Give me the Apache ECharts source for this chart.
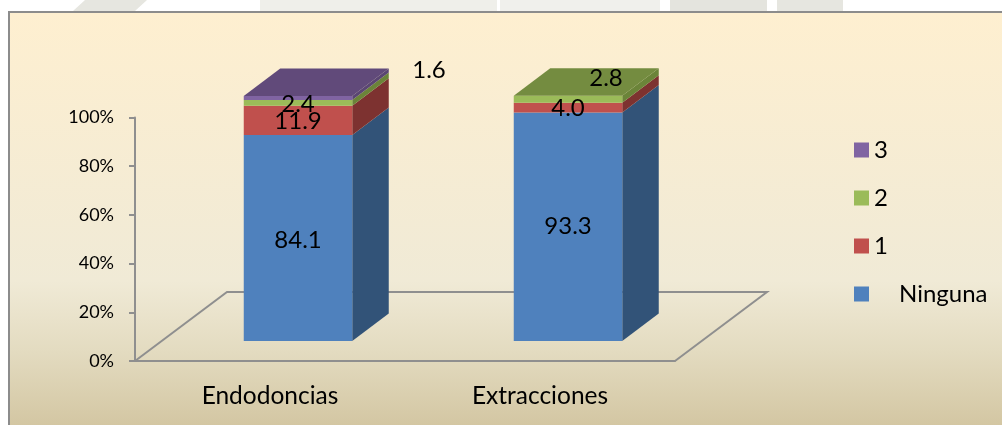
<!DOCTYPE html>
<html><head><meta charset="utf-8">
<style>html,body{margin:0;padding:0;background:#fff}#c{width:1002px;height:425px}</style>
<script src="https://cdn.jsdelivr.net/npm/echarts@6/dist/echarts.min.js"></script>
</head><body><div id="c"></div>
<script>
const categories = ['Endodoncias', 'Extracciones'];
const yTicks = [0, 20, 40, 60, 80, 100];
const legendOrder = ['3', '2', '1', 'Ninguna'];
const ninguna = [84.1, 93.3];
const uno = [11.9, 4.0];
const dos = [2.4, 2.8];
const tres = [1.6, 0];

const FONT = 'Lato';
const DX = 36.5, DY = -27.5, LIFT = -20, BAR_W = 108.5, BAR_SHIFT = 28, BAR_SCALE = 1.006;
const FLOOR_DX = 92, FLOOR_DY = -69;

const stack = [
  {name: 'Ninguna', vals: ninguna, front: '#4F81BD', side: '#325378', top: '#3E6695'},
  {name: '1', vals: uno, front: '#C0504D', side: '#7D3230', top: '#963F3C'},
  {name: '2', vals: dos, front: '#9BBB59', side: '#6B8439', top: '#748C40'},
  {name: '3', vals: tres, front: '#8064A2', side: '#5A4673', top: '#614A7A'}
];
// label nudges from the default centred spot, per series then category
const nudges = {
  'Ninguna': [[0, 2], [0, 0]],
  '1': [[0, 1], [0, 1]],
  '2': [[0, 1], [38, -21]],
  '3': [[131, -27.5], [0, 0]]
};

function lower(si, ci) { let s = 0; for (let i = 0; i < si; i++) s += stack[i].vals[ci]; return s; }
const isTop = (si, ci) => { for (let i = si + 1; i < stack.length; i++) if (stack[i].vals[ci] > 0) return false; return true; };

function box(api, ci, from, to) {
  const base = api.coord([ci, 0])[1] + LIFT;
  const a = api.coord([ci, from]), b = api.coord([ci, to]);
  const x0 = a[0] + BAR_SHIFT - BAR_W / 2;
  return {x0, x1: x0 + BAR_W, y0: base + (a[1] + LIFT - base) * BAR_SCALE, y1: base + (b[1] + LIFT - base) * BAR_SCALE};
}

const series = stack.map((s, si) => ({
  name: s.name, type: 'custom', z: 5 + si, clip: false,
  itemStyle: {color: s.front},
  data: s.vals.map((v, ci) => [ci, lower(si, ci), lower(si, ci) + v, v]),
  encode: {x: 0, y: [1, 2]},
  renderItem(params, api) {
    const ci = api.value(0), v = api.value(3);
    if (!v) return null;
    const {x0, x1, y0, y1} = box(api, ci, api.value(1), api.value(2));
    const kids = [
      {type: 'polygon', shape: {points: [[x1, y0], [x1 + DX, y0 + DY], [x1 + DX, y1 + DY], [x1, y1]]}, style: {fill: s.side}},
      {type: 'rect', shape: {x: x0, y: y1, width: BAR_W, height: y0 - y1}, style: {fill: s.front}}
    ];
    if (isTop(si, ci)) kids.push({type: 'polygon', shape: {points: [[x0, y1], [x1, y1], [x1 + DX, y1 + DY], [x0 + DX, y1 + DY]]}, style: {fill: s.top}});
    return {type: 'group', children: kids};
  }
}));

// value labels sit above every bar segment
stack.forEach((s, si) => {
  series.push({
    type: 'custom', z: 30, silent: true, clip: false,
    data: s.vals.map((v, ci) => [ci, lower(si, ci), lower(si, ci) + v, v]),
    encode: {x: 0, y: [1, 2]},
    renderItem(params, api) {
      const ci = api.value(0), v = api.value(3);
      if (!v) return null;
      const {x0, x1, y0, y1} = box(api, ci, api.value(1), api.value(2));
      const n = nudges[s.name][ci];
      return {type: 'text', style: {text: v.toFixed(1), x: (x0 + x1) / 2 + n[0], y: (y0 + y1) / 2 + n[1], align: 'center', verticalAlign: 'middle', fill: '#000', font: '24px ' + FONT}};
    }
  });
});

// floor of the 3D plot
series.unshift({
  type: 'custom', z: 2, silent: true, clip: false,
  data: [[0, 0]],
  encode: {x: 0, y: 1},
  renderItem(params) {
    const cs = params.coordSys;
    const y = cs.y + cs.height, x0 = cs.x, x1 = cs.x + cs.width;
    return {type: 'polyline', shape: {points: [[x0, y], [x0 + FLOOR_DX, y + FLOOR_DY], [x1 + FLOOR_DX, y + FLOOR_DY], [x1, y]]}, style: {fill: null, stroke: '#8F8F8F', lineWidth: 2}};
  }
});

const chart = echarts.init(document.getElementById('c'), null, {renderer: 'canvas'});
chart.setOption({
  animation: false,
  textStyle: {fontFamily: FONT},
  graphic: {elements: [
    {type: 'group', z: -10, silent: true, children: [
      {type: 'polygon', shape: {points: [[73, 11], [85, 0], [147, 0], [135, 11]]}, style: {fill: '#E6E6E0'}},
      {type: 'rect', shape: {x: 260, y: 0, width: 237, height: 11}, style: {fill: '#EFEFEA'}},
      {type: 'rect', shape: {x: 500, y: 0, width: 160, height: 11}, style: {fill: '#F0F0EC'}},
      {type: 'rect', shape: {x: 670, y: 0, width: 97, height: 11}, style: {fill: '#E4E4DE'}},
      {type: 'rect', shape: {x: 777, y: 0, width: 66, height: 11}, style: {fill: '#E6E6E0'}}
    ]},
    {type: 'rect', z: -9, silent: true, shape: {x: 9, y: 12, width: 1100, height: 414},
      style: {stroke: '#8C8C8C', lineWidth: 2,
        fill: new echarts.graphic.LinearGradient(0, 0, 0, 1, [
          {offset: 0, color: '#FEEFD0'}, {offset: 0.65, color: '#F0EAD6'}, {offset: 0.82, color: '#E3DBC0'}, {offset: 1, color: '#D3C6A2'}
        ], false)}}
  ]},
  grid: {left: 135, right: 327, top: 117.5, bottom: 64, containLabel: false},
  legend: {
    orient: 'vertical', left: 854, top: 138, padding: 0, itemWidth: 15, itemHeight: 15, itemGap: 24, icon: 'rect',
    data: legendOrder,
    formatter: name => name === 'Ninguna' ? '{n|' + name + '}' : name,
    textStyle: {fontFamily: FONT, fontSize: 24, color: '#000',
      rich: {n: {fontFamily: FONT, fontSize: 24, color: '#000', padding: [0, 0, 0, 25]}}},
    selectedMode: false
  },
  xAxis: {
    type: 'category', data: categories,
    axisLine: {lineStyle: {color: '#8F8F8F', width: 2}},
    axisTick: {length: 6, lineStyle: {color: '#8F8F8F', width: 2}},
    axisLabel: {color: '#000', fontFamily: FONT, fontSize: 24.5, margin: 23}
  },
  yAxis: {
    type: 'value', min: yTicks[0], max: yTicks[yTicks.length - 1], interval: yTicks[1] - yTicks[0],
    splitLine: {show: false},
    axisLine: {show: true, lineStyle: {color: '#8F8F8F', width: 2}},
    axisTick: {show: true, length: 6, lineStyle: {color: '#8F8F8F', width: 2}},
    axisLabel: {color: '#000', fontFamily: FONT, fontSize: 18, margin: 21, formatter: '{value}%'}
  },
  series
});
</script></body></html>
